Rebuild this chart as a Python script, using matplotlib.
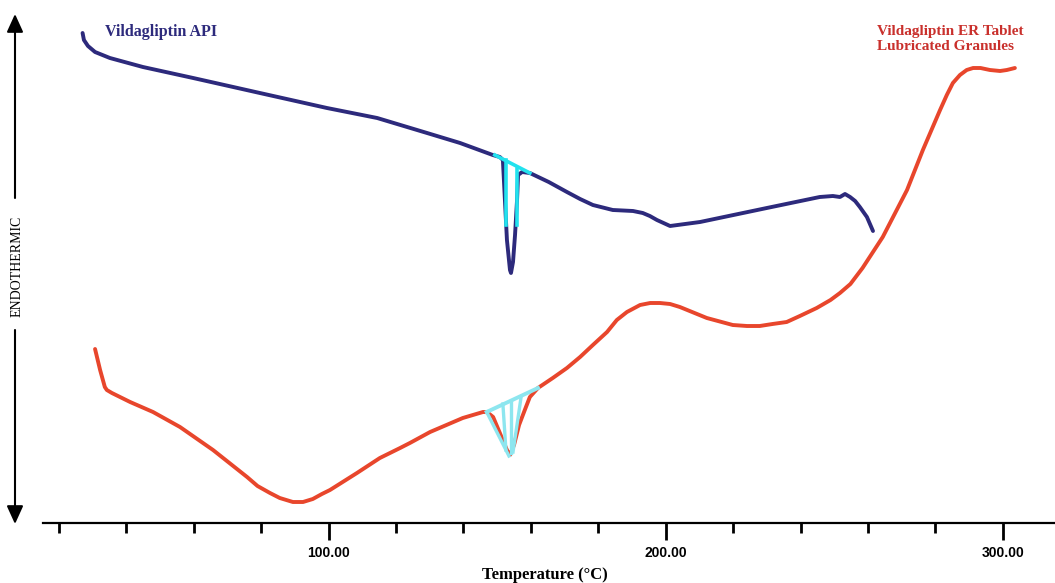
import numpy as np
import matplotlib.pyplot as plt

# DSC thermograms: temperature (deg C) vs heat flow (arbitrary units)
api_temp = [27.0, 27.4, 28.6, 30.7, 35.1, 44.9, 59.8, 79.6, 99.5, 114.4, 129.2, 139.0,
            148.7, 150.8, 151.7, 152.3, 152.9, 153.8, 154.1, 154.7, 155.3, 155.9, 156.2,
            157.4, 159.7, 165.3, 170.7, 174.6, 178.4, 184.3, 190.3, 193.2, 195.3, 197.4,
            201.3, 210.2, 230.0, 245.7, 249.6, 251.7, 253.2, 254.7, 256.2, 257.6, 259.7, 261.5]
api_flow = [49.0, 48.3, 47.7, 47.1, 46.5, 45.6, 44.5, 43.0, 41.5, 40.5, 39.0, 38.0,
            36.8, 36.6, 36.3, 32.3, 28.3, 25.3, 25.0, 26.1, 28.8, 32.3, 34.8,
            35.1, 35.0, 34.1, 33.1, 32.4, 31.8, 31.3, 31.2, 31.0, 30.7, 30.3,
            29.7, 30.1, 31.5, 32.6, 32.7, 32.6, 32.9, 32.6, 32.2, 31.6, 30.6, 29.2]

er_temp = [30.7, 32.2, 33.6, 34.2, 35.7, 41.1, 47.9, 55.9, 65.7, 75.8, 78.9, 82.6, 85.5,
           89.4, 92.4, 95.3, 98.0, 100.4, 108.4, 115.2, 121.2, 124.1, 130.1, 139.8, 145.8,
           147.0, 148.8, 150.8, 152.9, 153.8, 155.0, 156.5, 158.2, 159.7, 162.1, 166.5,
           170.7, 174.6, 178.4, 182.6, 185.5, 188.5, 192.4, 195.4, 198.3, 201.3, 204.2,
           212.2, 219.9, 224.1, 227.9, 231.7, 235.9, 239.8, 244.8, 248.9, 251.7, 254.8,
           258.4, 264.4, 271.6, 276.3, 281.4, 283.4, 285.2, 287.3, 289.3, 291.2, 293.4,
           296.2, 299.2, 301.2, 303.6]
er_flow = [17.4, 15.3, 13.6, 13.3, 13.0, 12.1, 11.1, 9.6, 7.3, 4.6, 3.7, 3.0, 2.5,
           2.1, 2.1, 2.4, 2.9, 3.3, 5.0, 6.5, 7.5, 8.0, 9.1, 10.5, 11.1,
           11.1, 10.6, 9.0, 7.3, 6.8, 7.8, 9.8, 11.3, 12.6, 13.5, 14.5,
           15.5, 16.6, 17.8, 19.1, 20.3, 21.1, 21.8, 22.0, 22.0, 21.9, 21.6,
           20.5, 19.8, 19.7, 19.7, 19.9, 20.1, 20.7, 21.5, 22.3, 23.0, 23.9,
           25.5, 28.6, 33.3, 37.3, 41.3, 42.8, 44.0, 44.8, 45.3, 45.5, 45.5,
           45.3, 45.2, 45.3, 45.5]

# peak integration marks (baseline + partition lines)
api_base_t = [149.3, 159.7]
api_base_f = [36.8, 35.0]
api_part_t = [152.6, 155.9]
api_part_top = [36.3, 35.4]
api_part_bot = 29.8

er_base_t = [146.9, 162.1]
er_base_f = [11.1, 13.5]
er_fan_top_t = [146.9, 151.7, 154.1, 157.1]
er_fan_top_f = [11.1, 11.9, 12.2, 12.6]
er_fan_bot_t = [153.5, 152.6, 154.1, 154.7]
er_fan_bot_f = [6.7, 7.3, 7.0, 7.1]

navy = '#2d2a7c'
orange = '#e8462c'

fig = plt.figure(figsize=(10.55, 5.83), dpi=100)
ax = fig.add_axes([0, 0, 1, 1])
ax.set_xlim(2.5, 315.5)
ax.set_ylim(-6.0, 52.3)

ax.plot(api_temp, api_flow, color=navy, lw=2.8, solid_capstyle='round', solid_joinstyle='round', zorder=3)
ax.plot(er_temp, er_flow, color=orange, lw=2.8, solid_capstyle='round', solid_joinstyle='round', zorder=3)

ax.plot(api_base_t, api_base_f, color='#22e2ee', lw=2.6, zorder=4)
for t, top in zip(api_part_t, api_part_top):
    ax.plot([t, t], [top, api_part_bot], color='#22e2ee', lw=2.6, zorder=4)

ax.plot(er_base_t, er_base_f, color='#8de6ef', lw=2.8, zorder=4)
for t0, f0, t1, f1 in zip(er_fan_top_t, er_fan_top_f, er_fan_bot_t, er_fan_bot_f):
    ax.plot([t0, t1], [f0, f1], color='#8de6ef', lw=2.4, zorder=4)

# axis
for s in ['top', 'right', 'left']:
    ax.spines[s].set_visible(False)
ax.spines['bottom'].set_position(('data', 0))
ax.spines['bottom'].set_bounds(15.3, 315.5)
ax.spines['bottom'].set_linewidth(1.6)
ax.set_yticks([])
ax.set_xticks([100, 200, 300])
ax.set_xticklabels(['100.00', '200.00', '300.00'])
ax.set_xticks([t for t in range(20, 301, 20) if t % 100], minor=True)
ax.tick_params(axis='x', which='major', direction='out', length=12.5, width=2.0, pad=4,
               labelsize=10, labelcolor='black')
ax.tick_params(axis='x', which='minor', direction='out', length=7.5, width=2.0)
for lab in ax.get_xticklabels():
    lab.set_fontfamily('Liberation Sans')
    lab.set_fontweight('bold')

fig.text(545 / 1055, 1 - 575 / 583, 'Temperature (\u00b0C)', ha='center', va='center',
         fontsize=12, fontweight='bold', family='Liberation Serif')

# endothermic arrow
arrow = dict(arrowstyle='-|>,head_length=0.55,head_width=0.25', color='black', lw=1.5,
             mutation_scale=20, shrinkA=0, shrinkB=0)
ax.annotate('', xy=(15 / 1055, 1 - 14 / 583), xytext=(15 / 1055, 1 - 198 / 583),
            xycoords='axes fraction', arrowprops=arrow)
ax.annotate('', xy=(15 / 1055, 1 - 524 / 583), xytext=(15 / 1055, 1 - 330 / 583),
            xycoords='axes fraction', arrowprops=arrow)
fig.text(17 / 1055, 1 - 266 / 583, 'ENDOTHERMIC', rotation=90, ha='center', va='center',
         fontsize=10, family='Liberation Serif')

fig.text(105 / 1055, 1 - 32 / 583, 'Vildagliptin API', ha='left', va='center',
         fontsize=11.5, fontweight='bold', family='Liberation Serif', color=navy)
fig.text(877 / 1055, 1 - 31 / 583, 'Vildagliptin ER Tablet', ha='left', va='center',
         fontsize=11, fontweight='bold', family='Liberation Serif', color='#c9302c')
fig.text(877 / 1055, 1 - 46 / 583, 'Lubricated Granules', ha='left', va='center',
         fontsize=11, fontweight='bold', family='Liberation Serif', color='#c9302c')

fig.savefig('out.png', dpi=100)
